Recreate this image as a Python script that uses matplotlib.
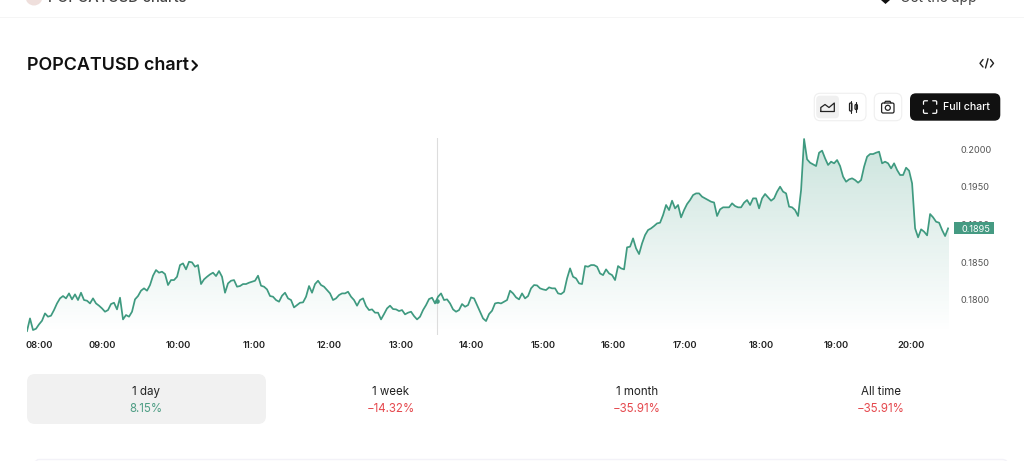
import matplotlib
matplotlib.use('Agg')
import matplotlib.pyplot as plt
import numpy as np
from matplotlib.colors import LinearSegmentedColormap
from matplotlib.patches import Circle, FancyBboxPatch, Polygon, Rectangle

# Price per sample
prices_morning = [
    .17584, .17752, .17598, .17615, .17673, .17721, .17819, .17775, .17788, .17863, .17951, .18018, .18049, .18018, .18084,
    .18005, .18071, .17996, .18093, .17996, .17987, .17951, .18018, .17951, .17921, .17885, .17841, .17863, .17943, .17960,
    .17872, .18027, .17739, .17797, .17775, .17841, .18005, .18049, .18120, .18151, .18120, .18195, .18319, .18394, .18359,
    .18372, .18341, .18195, .18261, .18261, .18305, .18460, .18482, .18403, .18504, .18496, .18438, .18460, .18208, .18270,
    .18305, .18336, .18359, .18314, .18381, .18305, .18093, .18217, .18252, .18261, .18173, .18182, .18208, .18208, .18226,
    .18239, .18252, .18319, .18186, .18173, .18137, .18049, .18040, .17996, .17974, .18053, .18093, .18018, .17996,
    .17898, .17929, .17960, .17965, .18040, .18182, .18093, .18208, .18252, .18195, .18173, .18128, .18084, .17996, .18018,
    .18062,
]
prices_midday = [
    .18084, .18084, .18106, .18040, .17996, .17921, .17996, .18018, .17916, .17863, .17872, .17828, .17828, .17739, .17810,
    .17885, .17921, .17876, .17872, .17850, .17863, .17806, .17828, .17841, .17783, .17739, .17775, .17863, .17929, .18009,
    .18027, .17951, .18040, .18084, .17996, .18005, .17951, .17872, .17841, .17863, .17943, .17907, .17929, .18031, .18018,
    .17929, .17841, .17752, .17717, .17810, .17854, .17951, .17960, .17951, .17974, .17996, .18120, .18084, .18031, .18005,
    .18084, .18018, .18049, .18151, .18195, .18190, .18151, .18137, .18128, .18164, .18151, .18151, .18084, .18075, .18106,
    .18283, .18416, .18305, .18283, .18217, .18208, .18447, .18438, .18460, .18460, .18438, .18349, .18327, .18403, .18349,
    .18327, .18261, .18447, .18416, .18403, .18695, .18704, .18814, .18681, .18606, .18748, .18858, .18925, .18947, .18978,
    .19013, .19022, .19124, .19257, .19190, .19314, .19212, .19257,
]
prices_evening = [
    .19093, .19190, .19270, .19323, .19389, .19411, .19411, .19367, .19345, .19323, .19301, .19290, .19111, .19199,
    .19226, .19226, .19226, .19279, .19243, .19226, .19226, .19288, .19323, .19257, .19345, .19345, .19212, .19345, .19403,
    .19358, .19314, .19345, .19434, .19500, .19434, .19411, .19235, .19226, .19190, .19111, .19456, .20133, .19863,
    .19818, .19796, .19774, .19951, .19978, .19876, .19788, .19832, .19810, .19854, .19774, .19633, .19566, .19597, .19611,
    .19588, .19553, .19588, .19765, .19898, .19933, .19933, .19951, .19964, .19810, .19832, .19810, .19743, .19810, .19721,
    .19655, .19655, .19752, .19712, .19544, .18947, .18828, .18934, .18903, .18854, .19137, .19093, .19035, .19022,
    .18925, .18845, .18947,
]
prices = prices_morning + prices_midday + prices_evening

time_labels = ['08:00', '09:00', '10:00', '11:00', '12:00', '13:00', '14:00', '15:00', '16:00', '17:00', '18:00', '19:00', '20:00']
time_samples = [4.1, 25.1, 50.4, 75.8, 100.8, 124.8, 148.1, 172.1, 195.4, 219.4, 244.8, 269.8, 294.8]
axis_prices = [0.18, 0.185, 0.19, 0.195, 0.20]
last_price = '0.1895'
hover_sample = 136.8
hover_price = 0.17983

period_names = ['1 day', '1 week', '1 month', 'All time']
period_changes = ['8.15%', '\u221214.32%', '\u221235.91%', '\u221235.91%']

GREEN = '#3f9a80'
RED = '#e5484d'
INK = '#111111'

plt.rcParams['font.family'] = ['Inter', 'DejaVu Sans']

fig = plt.figure(figsize=(10.24, 4.61), dpi=100, facecolor='white')

################################################################################################
# Price chart

ax = fig.add_axes([27 / 1024, (461 - 335) / 461, 922 / 1024, 197 / 461], zorder=1)
samples = np.arange(len(prices))
ax.set_xlim(0, 307.3)
ax.set_ylim(0.17532, 0.20146)

# Gradient under the line, clipped to the area below the prices
floor = 0.17575
fade = LinearSegmentedColormap.from_list('fade', [(0.247, 0.604, 0.502, 0.27), (0.247, 0.604, 0.502, 0.0)])
gradient = ax.imshow(np.linspace(0, 1, 256).reshape(-1, 1), cmap=fade, aspect='auto',
                     extent=(0, samples[-1] + 0.5, floor, 0.20146), origin='upper', zorder=1)
outline = list(zip(samples, prices)) + [(samples[-1] + 0.5, prices[-1]), (samples[-1] + 0.5, floor), (0, floor)]
clip_patch = Polygon(outline, closed=True, transform=ax.transData, facecolor='none', edgecolor='none')
ax.add_patch(clip_patch)
gradient.set_clip_path(clip_patch)

ax.plot(samples, prices, color=GREEN, linewidth=1.25, solid_joinstyle='round', zorder=3)

# Hover line and dot
ax.axvline(hover_sample, color='#dddddd', linewidth=0.8, zorder=2)
ax.scatter([hover_sample], [hover_price], s=11, color=GREEN, zorder=4, linewidths=0)

ax.set_xticks(time_samples)
ax.set_xticklabels(time_labels, fontsize=6.7, fontweight='semibold', color='#222222')
ax.yaxis.tick_right()
ax.set_yticks(axis_prices)
ax.set_yticklabels([f'{p:.4f}' for p in axis_prices], fontsize=6.6, color='#555555')
for label in ax.get_yticklabels():
    label.set_va('center_baseline')
ax.tick_params(axis='x', length=0, pad=4)
ax.tick_params(axis='y', length=0, pad=8.5)
for spine in ax.spines.values():
    spine.set_visible(False)

################################################################################################
# Page furniture, in pixel coordinates

ui = fig.add_axes([0, 0, 1, 1], zorder=2)
ui.set_xlim(0, 1024)
ui.set_ylim(461, 0)
ui.axis('off')


def rounded(x0, y0, x1, y1, radius, face, edge='none', lw=0.8):
    ui.add_patch(FancyBboxPatch((x0 + radius, y0 + radius), x1 - x0 - 2 * radius, y1 - y0 - 2 * radius,
                                boxstyle=f'round,pad={radius},rounding_size={radius}',
                                facecolor=face, edgecolor=edge, linewidth=lw))


def stroke(xs, ys, color='#222222', lw=0.9):
    ui.plot(xs, ys, color=color, linewidth=lw, solid_capstyle='round', solid_joinstyle='round')


# Cropped header row
ui.add_patch(Circle((34, -3), 8.5, facecolor='#efdfdc', edgecolor='none'))
ui.text(48, 1.8, 'POPCATUSD charts', fontsize=10.5, fontweight='medium', color='#444444', va='baseline', clip_on=True)
ui.add_patch(Polygon([(881, 0), (890, 0), (885.5, 4)], closed=True, facecolor=INK, edgecolor='none'))
ui.text(900, 1.8, 'Get the app', fontsize=10, color='#444444', va='baseline', clip_on=True)
ui.add_patch(Rectangle((0, 17), 1024, 1.3, facecolor='#f5f5f5', edgecolor='none'))

# Title
ui.text(27, 65.3, 'POPCATUSD chart', fontsize=12.9, fontweight='semibold', color=INK, va='center', ha='left')
stroke([192.5, 197, 192.5], [61, 65.5, 70], color=INK, lw=1.5)

# Embed icon
stroke([983, 980, 983], [59.5, 63.3, 67], lw=1.0)
stroke([985.5, 988], [68, 58.7], lw=1.0)
stroke([990.5, 993.5, 990.5], [59.5, 63.3, 67], lw=1.0)

# Chart type switch
rounded(814.3, 93.3, 866, 120.7, 6, 'white', '#efefef')
rounded(816.2, 95.7, 839, 118.3, 4, '#f0f0f0')
stroke([820.8, 820.8, 825, 829, 834.3, 834.3, 820.8], [111.5, 107.5, 104.5, 107.5, 103, 111.5, 111.5], lw=0.9)
for cx, top, bottom, body_top, body_bottom in [(850.7, 101, 113, 103, 111), (856.2, 102.5, 112, 104.5, 109.5)]:
    stroke([cx, cx], [top, bottom], lw=0.8)
    ui.add_patch(FancyBboxPatch((cx - 1.2, body_top), 2.4, body_bottom - body_top,
                                boxstyle='round,pad=0,rounding_size=1', facecolor='white', edgecolor='#222222', linewidth=0.9))

# Camera button
rounded(874.3, 93.3, 901.7, 120.7, 6, 'white', '#efefef')
ui.add_patch(FancyBboxPatch((881.6, 103), 12.4, 10, boxstyle='round,pad=0,rounding_size=1.6',
                            facecolor='none', edgecolor='#222222', linewidth=0.9))
stroke([884.5, 885.5, 890, 891], [103, 101.3, 101.3, 103], lw=0.9)
ui.add_patch(Circle((887.8, 107.8), 2.5, facecolor='none', edgecolor='#222222', linewidth=0.9))

# Full chart button
rounded(910, 93.3, 1000.3, 120.7, 6, INK)
for sx, sy in [(923.5, 100.8), (936.7, 100.8), (923.5, 113.3), (936.7, 113.3)]:
    dx = 4 if sx < 930 else -4
    dy = 3.5 if sy < 107 else -3.5
    stroke([sx + dx, sx + 0.8 * np.sign(dx), sx, sx], [sy, sy, sy + 0.8 * np.sign(dy), sy + dy], color='white', lw=0.9)
ui.text(942.6, 107.2, 'Full chart', fontsize=7.6, fontweight='medium', color='white', va='center', ha='left')

# Last price tag
ui.add_patch(Rectangle((954, 222), 39.5, 12.3, facecolor='#459a82', edgecolor='none'))
ui.text(961, 228, last_price, fontsize=6.6, color='white', va='center_baseline', ha='left')

# Period cards
rounded(27, 374, 266, 424, 8, '#f1f1f1')
card_centres = [146, 391, 637, 881]
change_colors = ['#4f9e85', RED, RED, RED]
for centre, name, change, color in zip(card_centres, period_names, period_changes, change_colors):
    ui.text(centre, 390.3, name, fontsize=8.3, color='#222222', ha='center', va='center_baseline')
    ui.text(centre, 407, change, fontsize=8.3, color=color, ha='center', va='center_baseline')

# Top edge of the next card
rounded(33, 459.5, 1008, 480, 6, 'none', '#f3f2f8', lw=1.0)

fig.savefig('out.png', dpi=100)
plt.close(fig)
